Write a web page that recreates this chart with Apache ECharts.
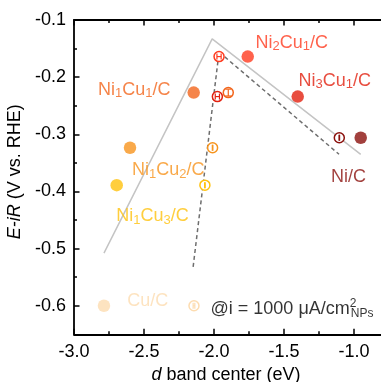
<!DOCTYPE html>
<html><head><meta charset="utf-8">
<script src="https://cdn.jsdelivr.net/npm/echarts@6/dist/echarts.min.js"></script>
<style>html,body{margin:0;padding:0;background:#fff}#c{width:381px;height:382px}</style>
</head><body><div id="c"></div>
<script>
// ---- data ----
const sampleNames = ['Cu/C', 'Ni1Cu3/C', 'Ni1Cu2/C', 'Ni1Cu1/C', 'Ni2Cu1/C', 'Ni3Cu1/C', 'Ni/C'];
const sampleLabels = ['Cu/C', 'Ni{s|1}Cu{s|3}/C', 'Ni{s|1}Cu{s|2}/C', 'Ni{s|1}Cu{s|1}/C', 'Ni{s|2}Cu{s|1}/C', 'Ni{s|3}Cu{s|1}/C', 'Ni/C'];
const sampleColors = ['#fddcb0', '#ffc20e', '#f7941d', '#f2651c', '#ff3b1f', '#e2200f', '#8b100c'];
const dBandFilled = [-2.786, -2.695, -2.600, -2.145, -1.759, -1.402, -0.952];
const potential = [-0.600, -0.389, -0.3235, -0.227, -0.164, -0.234, -0.306];
const dBandOpen = [-2.143, -2.065, -2.010, -1.898, -1.964, -1.976, -1.105];
const openXErr = [0.006, 0.002, 0.002, 0, 0.015, 0.015, 0.002];
const openYErr = [0, 0, 0, 0.006, 0, 0, 0];
const labelX = [-2.473, -2.440, -2.327, -2.570, -1.444, -1.138, -1.040];
const labelY = [-0.592, -0.443, -0.3625, -0.222, -0.140, -0.206, -0.375];
const trendSolidX = [-2.786, -2.013, -0.952];
const trendSolidY = [-0.508, -0.133, -0.335];
const trendDashX = [-2.149, -1.964, -1.107];
const trendDashY = [-0.532, -0.156, -0.335];
const yMajorTicks = [-0.6, -0.5, -0.4, -0.3, -0.2, -0.1];
const noteText = '@i = 1000 μA/cm{sup|2}{sub|NPs}';
const noteX = [-2.0246];
const noteY = [-0.6066];
const xTitle = '{it|d} band center (eV)';
const yTitle = '{it|E-iR} (V vs. RHE)';

// ---- chart ----
const FONT = '"Liberation Sans", Arial, Helvetica, sans-serif';
const chart = echarts.init(document.getElementById('c'), null, {renderer: 'canvas'});
const X_MIN = -3.0, X_MAX = -0.5, Y_MIN = -0.65, Y_MAX = -0.1;

function zip(a, b) { return a.map((v, i) => [v, b[i]]); }
function isMajorY(v) { return Math.abs(v * 10 - Math.round(v * 10)) < 1e-6; }

const axisLineStyle = {color: '#000', width: 1.8};
const baseX = {
  type: 'value', min: X_MIN, max: X_MAX, interval: 0.5,
  splitLine: {show: false},
  axisLine: {show: true, onZero: false, lineStyle: axisLineStyle},
  axisTick: {show: true, inside: true, length: 5.5, lineStyle: {color: '#000', width: 1.5}},
  minorTick: {show: true, splitNumber: 2, length: 3, lineStyle: {color: '#000', width: 1.5}},
};

const option = {
  animation: false,
  backgroundColor: '#fff',
  textStyle: {fontFamily: FONT},
  grid: {left: 74, top: 20, width: 350, height: 314.3, containLabel: false, outerBoundsMode: 'none'},
  xAxis: [
    Object.assign({}, baseX, {
      position: 'bottom',
      axisLabel: {show: true, margin: 9, fontSize: 18, color: '#000', fontFamily: FONT,
        formatter: v => v.toFixed(1)},
      name: xTitle, nameLocation: 'middle', nameGap: 29,
      nameTextStyle: {fontSize: 18, color: '#000', fontFamily: FONT, padding: [0, 46, 0, 0],
        rich: {it: {fontStyle: 'italic', fontSize: 18, fontFamily: FONT, color: '#000'}}}
    }),
    Object.assign({}, baseX, {position: 'top', axisLabel: {show: false}})
  ],
  yAxis: [
    {
      type: 'value', min: Y_MIN, max: Y_MAX, interval: 0.05, position: 'left',
      splitLine: {show: false},
      axisLine: {show: true, onZero: false, lineStyle: axisLineStyle},
      axisTick: {show: true, inside: true, length: 3, lineStyle: {color: '#000', width: 1.5}},
      axisLabel: {show: true, interval: 0, margin: 8, fontSize: 18, color: '#000', fontFamily: FONT,
        formatter: v => isMajorY(v) ? v.toFixed(1) : ''},
      name: yTitle, nameLocation: 'middle', nameGap: 45, nameRotate: 90,
      nameTextStyle: {fontSize: 18, color: '#000', fontFamily: FONT, padding: [0, 0, 0, 11],
        rich: {it: {fontStyle: 'italic', fontSize: 18, fontFamily: FONT, color: '#000'}}}
    },
    {
      type: 'value', min: Y_MIN, max: Y_MAX, position: 'right', offset: -350,
      splitLine: {show: false},
      axisLine: {show: false},
      axisLabel: {show: false},
      axisTick: {show: true, inside: false, length: 5.5, customValues: yMajorTicks,
        lineStyle: {color: '#000', width: 1.5}}
    }
  ],
  series: [
    {
      type: 'line', data: zip(trendSolidX, trendSolidY), symbol: 'none', z: 1,
      lineStyle: {color: '#c4c4c4', width: 1.5}, silent: true
    },
    {
      type: 'line', data: zip(trendDashX, trendDashY), symbol: 'none', z: 1,
      lineStyle: {color: '#6e6e6e', width: 1.5, type: [4, 3]}, silent: true
    },
    {
      type: 'scatter', symbol: 'circle', symbolSize: 12.5, z: 3,
      data: dBandFilled.map((x, i) => ({value: [x, potential[i]], itemStyle: {color: sampleColors[i]}}))
    },
    {
      type: 'custom', z: 3,
      encode: {x: 0, y: 1},
      data: dBandOpen.map((x, i) => [x, potential[i], openXErr[i], openYErr[i], i]),
      renderItem: function (params, api) {
        const x = api.value(0), y = api.value(1), xe = api.value(2), ye = api.value(3), ci = api.value(4);
        const color = sampleColors[ci];
        const c = api.coord([x, y]);
        const ls = {stroke: color, lineWidth: 1.2};
        const cap = 3;
        const ch = [{type: 'circle', shape: {cx: c[0], cy: c[1], r: 5}, style: {fill: '#fff', stroke: color, lineWidth: 1.5}}];
        if (xe > 0) {
          const a = api.coord([x - xe, y]), b = api.coord([x + xe, y]);
          ch.push({type: 'line', shape: {x1: a[0], y1: a[1], x2: b[0], y2: b[1]}, style: ls});
          ch.push({type: 'line', shape: {x1: a[0], y1: a[1] - cap, x2: a[0], y2: a[1] + cap}, style: ls});
          ch.push({type: 'line', shape: {x1: b[0], y1: b[1] - cap, x2: b[0], y2: b[1] + cap}, style: ls});
        }
        if (ye > 0) {
          const a = api.coord([x, y - ye]), b = api.coord([x, y + ye]);
          ch.push({type: 'line', shape: {x1: a[0], y1: a[1], x2: b[0], y2: b[1]}, style: ls});
          ch.push({type: 'line', shape: {x1: a[0] - cap, y1: a[1], x2: a[0] + cap, y2: a[1]}, style: ls});
          ch.push({type: 'line', shape: {x1: b[0] - cap, y1: b[1], x2: b[0] + cap, y2: b[1]}, style: ls});
        }
        return {type: 'group', children: ch};
      }
    },
    {
      type: 'scatter', symbolSize: 0, z: 4, silent: true,
      data: labelX.map((x, i) => ({
        value: [x, labelY[i]],
        label: {
          show: true, position: 'inside', align: 'center', verticalAlign: 'middle',
          formatter: sampleLabels[i], color: sampleColors[i], fontSize: 18, lineHeight: 20, fontFamily: FONT,
          rich: {s: {fontSize: 13, lineHeight: 13, padding: [8, 0, 0, 0], color: sampleColors[i], fontFamily: FONT}}
        }
      }))
    },
    {
      type: 'scatter', symbolSize: 0, z: 4, silent: true,
      data: noteX.map((x, i) => ({
        value: [x, noteY[i]],
        label: {
          show: true, position: [0, 0], align: 'left', verticalAlign: 'middle',
          formatter: noteText, color: '#000', fontSize: 18, lineHeight: 20, fontFamily: FONT,
          rich: {
            sup: {fontSize: 12, lineHeight: 12, padding: [0, 0, 12, 0], width: 1, color: '#000', fontFamily: FONT},
            sub: {fontSize: 12, lineHeight: 12, padding: [9, 0, 0, 0], color: '#000', fontFamily: FONT}
          }
        }
      }))
    }
  ]
};
chart.setOption(option);
</script></body></html>
